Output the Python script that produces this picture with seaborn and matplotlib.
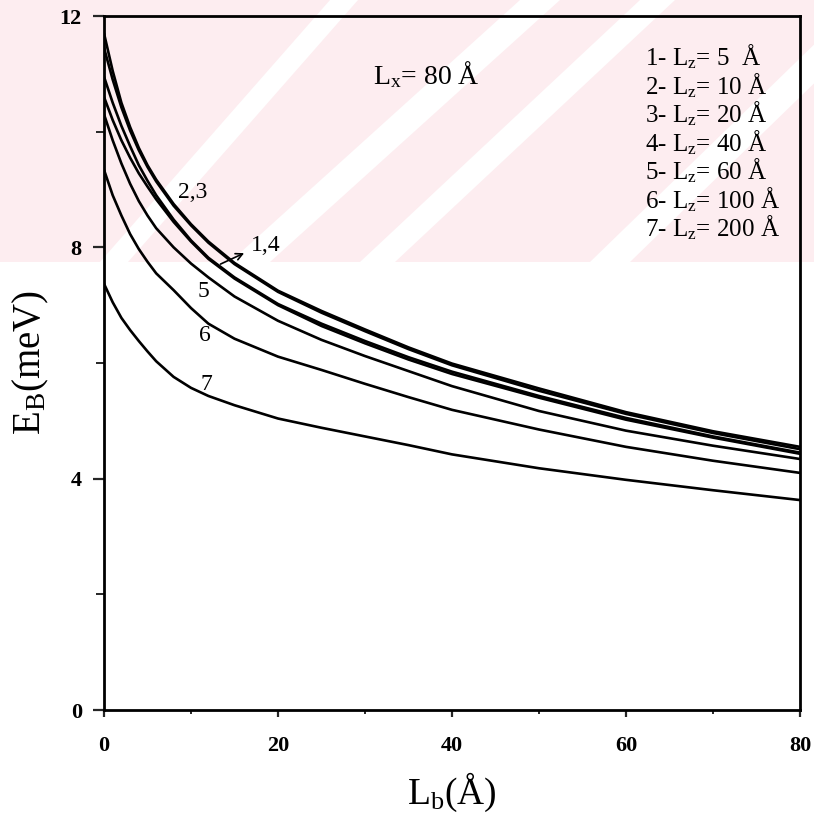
import numpy as np
import pandas as pd
import matplotlib
matplotlib.use("Agg")
import matplotlib.pyplot as plt
from matplotlib.patches import Rectangle, Polygon
from matplotlib.ticker import MultipleLocator
import seaborn as sns

# ---- data ----
lb = [0, 1, 2, 3, 4, 5, 6, 8, 10, 12, 15, 20, 25, 30, 35, 40, 50, 60, 70, 80]
eb_lz5   = [10.95, 10.5, 10.1, 9.75, 9.42, 9.15, 8.9, 8.48, 8.12, 7.82, 7.48, 7.02, 6.68, 6.38, 6.1, 5.85, 5.43, 5.05, 4.73, 4.45]
eb_lz10  = [11.7, 11.05, 10.5, 10.08, 9.72, 9.42, 9.17, 8.75, 8.4, 8.1, 7.73, 7.25, 6.9, 6.58, 6.27, 5.99, 5.56, 5.15, 4.82, 4.55]
eb_lz20  = [11.45, 10.9, 10.42, 10.02, 9.68, 9.39, 9.14, 8.72, 8.38, 8.08, 7.71, 7.23, 6.87, 6.55, 6.24, 5.96, 5.52, 5.12, 4.79, 4.51]
eb_lz40  = [10.6, 10.2, 9.85, 9.55, 9.28, 9.05, 8.83, 8.44, 8.1, 7.8, 7.46, 7.0, 6.64, 6.34, 6.06, 5.81, 5.4, 5.02, 4.71, 4.43]
eb_lz60  = [10.3, 9.85, 9.45, 9.1, 8.8, 8.55, 8.33, 8.0, 7.72, 7.48, 7.15, 6.73, 6.4, 6.12, 5.86, 5.6, 5.17, 4.83, 4.57, 4.34]
eb_lz100 = [9.34, 8.9, 8.55, 8.23, 7.97, 7.75, 7.55, 7.26, 6.95, 6.68, 6.42, 6.11, 5.88, 5.64, 5.41, 5.19, 4.85, 4.55, 4.31, 4.10]
eb_lz200 = [7.37, 7.05, 6.78, 6.57, 6.38, 6.2, 6.03, 5.76, 5.57, 5.43, 5.27, 5.04, 4.88, 4.73, 4.58, 4.42, 4.18, 3.98, 3.80, 3.63]

curve_ids = ["1", "2", "3", "4", "5", "6", "7"]
series = [eb_lz5, eb_lz10, eb_lz20, eb_lz40, eb_lz60, eb_lz100, eb_lz200]
legend_lines = ["1- L$_{\\rm z}$= 5  Å", "2- L$_{\\rm z}$= 10 Å", "3- L$_{\\rm z}$= 20 Å",
                "4- L$_{\\rm z}$= 40 Å", "5- L$_{\\rm z}$= 60 Å", "6- L$_{\\rm z}$= 100 Å",
                "7- L$_{\\rm z}$= 200 Å"]
x_ticks = [0, 20, 40, 60, 80]
y_ticks = [0, 4, 8, 12]

df = pd.DataFrame({
    "Lb": np.tile(lb, len(series)),
    "EB": np.concatenate(series),
    "curve": np.repeat(curve_ids, len(lb)),
})

sns.set_theme(style="ticks")
plt.rcParams["font.family"] = ["Liberation Serif", "DejaVu Serif"]
plt.rcParams["mathtext.fontset"] = "custom"
plt.rcParams["mathtext.rm"] = "Liberation Serif"
plt.rcParams["mathtext.it"] = "Liberation Serif:italic"
plt.rcParams["mathtext.bf"] = "Liberation Serif:bold"

fig = plt.figure(figsize=(8.14, 8.16), dpi=100)
W, H = 814, 816

# faint watermark background (top band) on a background axes
bg = fig.add_axes([0, 0, 1, 1], zorder=0)
bg.set_xlim(0, W)
bg.set_ylim(H, 0)
bg.axis("off")
bg.add_patch(Rectangle((0, 0), W, 262, facecolor="#fdedf0", edgecolor="none"))
for (x0, x1, w) in [(100, 330, 28), (230, 520, 40), (360, 640, 35), (590, 860, 40)]:
    pts = [(x0, 262), (x0 + w, 262), (x1 + w, 0), (x1, 0)]
    bg.add_patch(Polygon(pts, closed=True, facecolor="white", edgecolor="none"))

ax = fig.add_axes([104 / W, 1 - 710 / H, (800 - 104) / W, (710 - 16) / H], zorder=2)
ax.set_facecolor("none")

sns.lineplot(data=df, x="Lb", y="EB", hue="curve", palette=["black"] * 7,
             legend=False, linewidth=1.9, ax=ax, sort=False)

ax.set_xlim(0, 80)
ax.set_ylim(0, 12)
ax.set_xticks(x_ticks)
ax.set_yticks(y_ticks)
ax.xaxis.set_minor_locator(MultipleLocator(10))
ax.yaxis.set_minor_locator(MultipleLocator(2))
for s in ax.spines.values():
    s.set_visible(True)
    s.set_linewidth(2.0)
    s.set_color("black")
ax.tick_params(axis="x", which="major", direction="out", length=5, width=1.6, pad=14, labelsize=16)
ax.tick_params(axis="x", which="minor", direction="out", length=3, width=1.4)
ax.tick_params(axis="y", which="major", direction="out", length=8, width=1.6, pad=8, labelsize=16)
ax.tick_params(axis="y", which="minor", direction="out", length=6, width=1.4)
for lab in ax.get_xticklabels() + ax.get_yticklabels():
    lab.set_fontweight("bold")
    lab.set_color("black")

ax.set_xlabel("L$_{\\rm b}$(Å)", fontsize=27, labelpad=10, color="black")
ax.set_ylabel("E$_{\\rm B}$(meV)", fontsize=28, labelpad=6, color="black")

ax.text(0.463, 0.915, "L$_{\\rm x}$= 80 Å", transform=ax.transAxes, fontsize=20,
        ha="center", va="center", color="black")

for i, t in enumerate(legend_lines):
    ax.text((645 - 104) / 696, (710 - (57 + 28.5 * i)) / 694, t, transform=ax.transAxes,
            fontsize=18, ha="left", va="center", color="black")

ax.text(10.2, 8.94, "2,3", fontsize=17, ha="center", va="center", color="black")
ax.text(18.6, 8.04, "1,4", fontsize=17, ha="center", va="center", color="black")
ax.annotate("", xy=(16.4, 7.92), xytext=(13.1, 7.69),
            arrowprops=dict(arrowstyle="->", color="black", lw=1.2))
ax.text(11.4, 7.23, "5", fontsize=17, ha="center", va="center", color="black")
ax.text(11.6, 6.48, "6", fontsize=17, ha="center", va="center", color="black")
ax.text(11.8, 5.62, "7", fontsize=17, ha="center", va="center", color="black")

fig.savefig("out.png", dpi=100)
